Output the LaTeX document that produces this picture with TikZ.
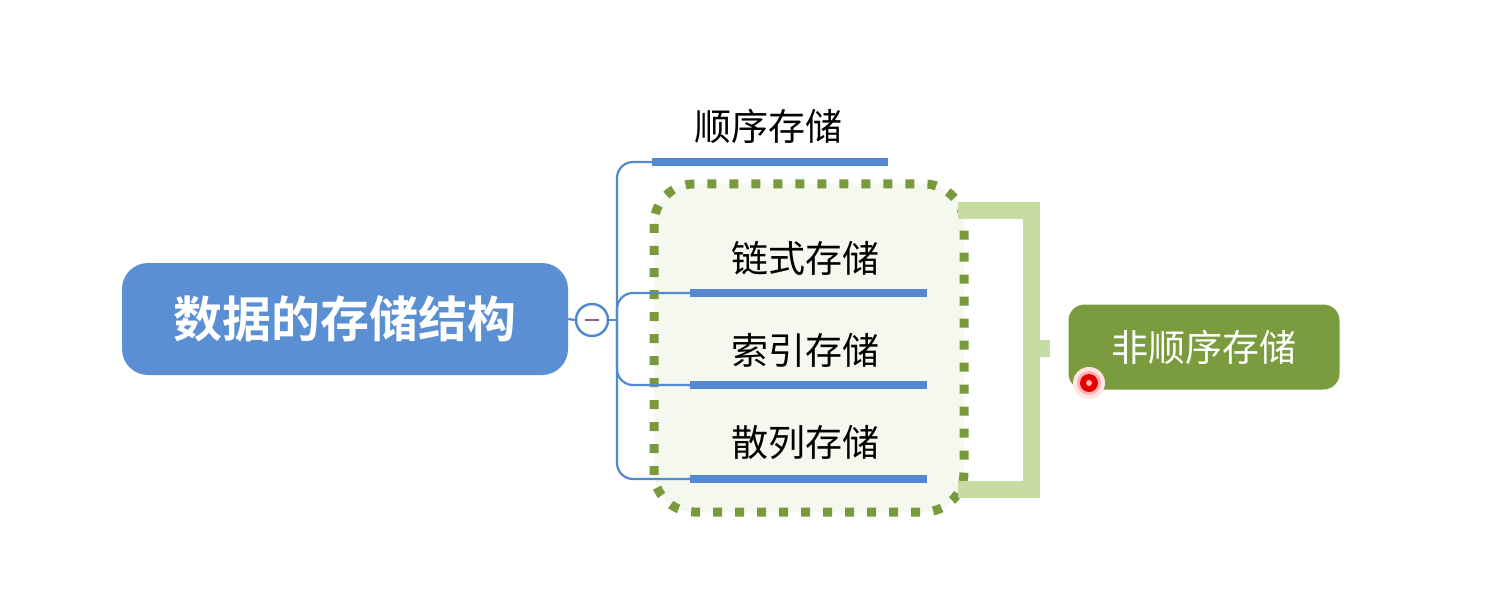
\documentclass[tikz,border=0pt]{standalone}
\usepackage{fontspec}
\newfontfamily\cjk{Noto Sans CJK SC}[BoldFont={Noto Sans CJK SC Bold}]
\definecolor{rootblue}{RGB}{91,143,212}
\definecolor{lineblue}{RGB}{84,136,208}
\definecolor{dgreen}{RGB}{120,154,58}
\definecolor{lgreen}{RGB}{198,220,162}
\definecolor{boxfill}{RGB}{245,248,238}
\definecolor{greenbox}{RGB}{122,156,62}
\begin{document}
\begin{tikzpicture}[x=1pt,y=-1pt,
  rootbox/.style={fill=rootblue,rounded corners=26pt,minimum width=446pt,minimum height=112pt,inner sep=0pt,text=white,font=\cjk\bfseries\fontsize{49}{53}\selectfont},
  leaf/.style={inner sep=0pt,text=black,font=\cjk\fontsize{37}{40}\selectfont},
  under/.style={draw=lineblue,line width=8pt},
  branch/.style={draw=lineblue,line width=2.2pt,rounded corners=16pt},
  greenlab/.style={fill=greenbox,rounded corners=16pt,minimum width=271pt,minimum height=85pt,inner sep=0pt,text=white,font=\cjk\fontsize{37}{40}\selectfont},
  bracket/.style={draw=lgreen,line width=17pt}]
\useasboundingbox (0,0) rectangle (1506,612);
\fill[white] (0,0) rectangle (1506,612);
% dotted group
\draw[dgreen,fill=boxfill,line width=9pt,rounded corners=40pt,dash pattern=on 9pt off 13pt] (654,184) rectangle (964,512);
% root
\node[rootbox] (root) at (345,319) {数据的存储结构};
% collapse circle
\node[circle,draw=lineblue,line width=2.5pt,fill=white,minimum size=32pt,inner sep=0pt] (col) at (592,320) {};
\draw[gray!80!violet,line width=2.5pt] ([xshift=-7pt]col.center) -- ([xshift=7pt]col.center);
\draw[lineblue,line width=2.2pt] (root.east) -- (col.west);
\coordinate (hub) at (617,320);
\draw[lineblue,line width=2.2pt] (col.east) -- (hub);
% labels
\node[leaf] (l0) at (768,126) {顺序存储};
\node[leaf] (l1) at (805,258) {链式存储};
\node[leaf] (l2) at (805,350) {索引存储};
\node[leaf] (l3) at (805,442) {散列存储};
% underline endpoints
\coordinate (a0) at (652,162); \coordinate (b0) at (888,162);
\coordinate (a1) at (690,293); \coordinate (b1) at (927,293);
\coordinate (a2) at (690,385); \coordinate (b2) at (927,385);
\coordinate (a3) at (690,479); \coordinate (b3) at (927,479);
\path[branch] (hub) |- (a0);
\path[branch] (hub) |- (a1);
\path[branch] (hub) |- (a2);
\path[branch] (hub) |- (a3);
\draw[under] (a0) -- (b0);
\draw[under] (a1) -- (b1);
\draw[under] (a2) -- (b2);
\draw[under] (a3) -- (b3);
% bracket
\coordinate (bt) at (958,211); \coordinate (bb) at (958,489);
\coordinate (bmid) at (1031,348); \coordinate (bstub) at (1050,348);
\draw[bracket] (bt) -- (1031,211) -- (1031,489) -- (bb);
\draw[bracket] (bmid) -- (bstub);
% non-sequential
\node[greenlab] (ns) at (1204,347) {非顺序存储};
% pointer dot
\fill[red!10] (1089,383) circle (16pt);
\fill[red!30] (1089,383) circle (12pt);
\fill[red!90!black] (1089,383) circle (9pt);
\fill[red!30] (1089,383) circle (3pt);
\end{tikzpicture}
\end{document}
